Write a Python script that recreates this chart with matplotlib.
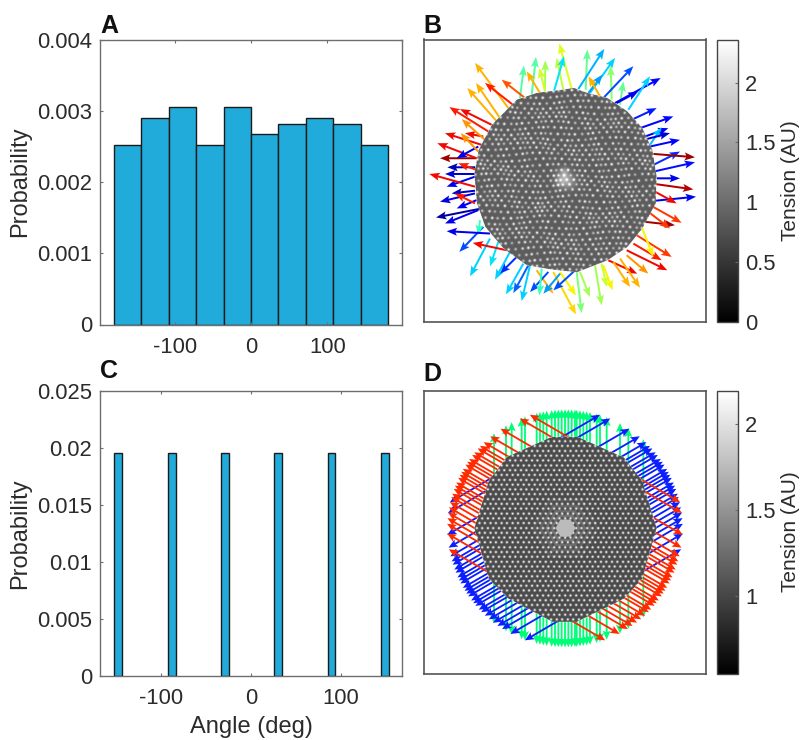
"""Four panel figure: angle histograms (A, C) and tension maps with edge arrows (B, D)."""
import matplotlib
matplotlib.use("Agg")
import matplotlib.pyplot as plt
import numpy as np
from matplotlib.cm import ScalarMappable
from matplotlib.colors import Normalize
from matplotlib.path import Path

plt.rcParams["font.family"] = ["Liberation Sans", "DejaVu Sans"]
plt.rcParams["axes.unicode_minus"] = False

W, H = 802, 740
BAR = "#20abda"
EDGE = "#6e6e6e"
TXT = "#2b2b2b"

# Histogram A
a_edges = [-180, -144, -108, -72, -36, 0, 36, 72, 108, 144]
a_width = 36
a_probs = [0.00252, 0.00290, 0.00305, 0.00252, 0.00305, 0.00267, 0.00282, 0.00290, 0.00282, 0.00252]
a_yticks = [0, 0.001, 0.002, 0.003, 0.004]
a_ylabels = ["0", "0.001", "0.002", "0.003", "0.004"]

# Histogram C
c_edges = [-152, -92, -33, 26, 85.5, 145]
c_width = 8.5
c_probs = [0.0196, 0.0196, 0.0196, 0.0196, 0.0196, 0.0196]
c_yticks = [0, 0.005, 0.01, 0.015, 0.02, 0.025]
c_ylabels = ["0", "0.005", "0.01", "0.015", "0.02", "0.025"]

# Panel B arrows (map units, 3 per pixel); colour is a jet value
b_tip_x = [418, 410, 376, 348, 312, 432, 502, 553, 585, 572, 547, 640, 610, 722, 690, 655, 710, 760, 745, 725,
           780, 750, 780, 825, 825, 780, 820, 828, 770, 785, 765, 750, 755, 725, 742, 652, 685, 660, 630, 700,
           578, 545, 560, 485, 510, 468, 468, 400, 400, 370, 330, 358, 305, 280, 258, 225, 210, 240, 150, 118,
           175, 158, 80, 48, 75, 60, 110, 95, 105, 80, 28, 75, 82, 60, 115, 52, 110, 75, 135, 122,
           88, 120, 125, 142, 165, 168, 195, 245, 320, 358, 505]
b_tip_y = [42, 85, 92, 82, 108, 80, 60, 58, 85, 108, 135, 110, 155, 145, 140, 185, 235, 260, 295, 292,
           330, 310, 365, 382, 397, 445, 478, 500, 520, 578, 585, 595, 680, 690, 720, 730, 730, 772, 770, 680,
           780, 825, 770, 848, 800, 852, 795, 790, 780, 790, 785, 795, 812, 788, 792, 748, 708, 730, 738, 665,
           615, 638, 603, 562, 580, 515, 535, 490, 490, 470, 432, 432, 412, 385, 400, 340, 385, 310, 310, 310,
           232, 238, 268, 175, 100, 160, 160, 150, 125, 115, 140]
b_tail_x = [455, 430, 375, 335, 300, 402, 497, 475, 510, 575, 505, 550, 600, 585, 625, 590, 635, 660, 675, 690,
            690, 670, 700, 700, 700, 710, 705, 705, 705, 690, 675, 685, 650, 640, 620, 565, 620, 600, 580, 665,
            550, 525, 545, 470, 480, 400, 420, 350, 465, 420, 385, 365, 330, 325, 310, 270, 235, 290, 210, 190,
            180, 260, 210, 185, 175, 165, 170, 165, 165, 165, 165, 165, 165, 170, 170, 170, 175, 185, 190, 175,
            205, 215, 195, 235, 265, 240, 285, 315, 360, 375, 540]
b_tail_y = [178, 180, 185, 195, 205, 185, 180, 178, 190, 210, 190, 205, 225, 220, 240, 220, 270, 295, 320, 345,
            350, 330, 405, 372, 425, 445, 462, 512, 485, 525, 575, 545, 615, 640, 660, 690, 675, 685, 695, 590,
            705, 705, 700, 725, 725, 725, 725, 720, 720, 730, 725, 715, 705, 705, 700, 665, 635, 680, 625, 590,
            570, 660, 610, 535, 540, 490, 510, 482, 520, 440, 470, 432, 412, 385, 420, 385, 350, 345, 320, 365,
            305, 285, 330, 280, 235, 265, 230, 205, 190, 185, 200]
b_val = [0.62, 0.58, 0.55, 0.45, 0.45, 0.35, 0.47, 0.30, 0.33, 0.52, 0.28, 0.20, 0.47, 0.12, 0.33, 0.10, 0.15, 0.12, 0.10, 0.32,
         0.13, 0.08, 0.17, 0.97, 0.14, 0.10, 0.95, 0.10, 0.90, 0.85, 0.97, 0.85, 0.85, 0.88, 0.90, 0.90, 0.75, 0.72, 0.72, 0.65,
         0.65, 0.55, 0.60, 0.50, 0.55, 0.68, 0.65, 0.72, 0.20, 0.28, 0.20, 0.42, 0.33, 0.22, 0.33, 0.33, 0.35, 0.17, 0.33, 0.20,
         0.42, 0.90, 0.10, 0.03, 0.10, 0.08, 0.10, 0.06, 0.88, 0.10, 0.90, 0.07, 0.05, 0.97, 0.88, 0.90, 0.10, 0.90, 0.90, 0.75,
         0.88, 0.90, 0.75, 0.72, 0.72, 0.72, 0.88, 0.82, 0.72, 0.60, 0.72]

# Edge of the tissue in B and D (map units)
b_edge_x = [430, 460, 500, 560, 620, 665, 695, 708, 705, 665, 620, 560, 470, 400, 320, 250, 195, 170, 162, 175, 215, 290, 350]
b_edge_y = [180, 175, 190, 205, 245, 295, 360, 440, 520, 595, 650, 690, 725, 718, 705, 655, 590, 520, 430, 360, 285, 210, 190]
d_edge_x = [395, 470, 610, 665, 708, 665, 610, 470, 395, 265, 205, 162, 205, 260]
d_edge_y = [168, 168, 230, 300, 440, 590, 650, 718, 718, 650, 590, 440, 300, 228]

# Panel D arrows: sideways offset of each arrow from the centre line of its direction
d_center = (435, 440)
d_tip_r = 354
green_off = [-213, -177, -160, -130, -120, -85, -75, -65, -55, -40, -30, -20, -10, 0, 10, 20, 30, 35,
             45, 55, 65, 75, 95, 105, 125, 165, 190, 235]
blue_off = [228, 190, 165, 150, 135, 120, 105, 90, 80, 65, 55, 45, 30, 20, 10, 0, -15, -25, -35, -50,
            -60, -75, -85, -100, -125, -160, -215, -240]
red_off = [-v for v in blue_off]


def add_axes(left, top, right, bottom):
    return fig.add_axes([left / W, 1 - bottom / H, (right - left) / W, (bottom - top) / H])


def hist_panel(ax, edges, width, probs, xlim, ylim, yticks, ylabels):
    ax.bar(edges, probs, width=width, align="edge", color=BAR, edgecolor="#1a1a1a", linewidth=1)
    ax.set_xlim(*xlim)
    ax.set_ylim(*ylim)
    ax.set_xticks([-100, 0, 100])
    ax.set_xticklabels(["-100", "0", "100"])
    ax.set_yticks(yticks)
    ax.set_yticklabels(ylabels)
    ax.tick_params(direction="in", length=2.5, width=0.8, color=EDGE, top=True, right=True,
                   labelsize=15.8, labelcolor=TXT)
    ax.tick_params(axis="x", pad=9)
    ax.tick_params(axis="y", pad=5.5)
    ax.set_ylabel("Probability", fontsize=17, color=TXT)
    ax.yaxis.set_label_coords(-0.228, 0.5)
    for s in ax.spines.values():
        s.set_color(EDGE)
        s.set_linewidth(1)


def blur(points, weights, size, sigma):
    # soft dots on a map of size x size
    img = np.zeros((size, size))
    ix = np.clip(points[:, 0].astype(int), 0, size - 1)
    iy = np.clip(points[:, 1].astype(int), 0, size - 1)
    np.add.at(img, (iy, ix), weights)
    d = np.minimum(np.arange(size), size - np.arange(size))
    kern = np.exp(-(d[:, None] ** 2 + d[None, :] ** 2) / (2 * sigma ** 2))
    return np.fft.irfft2(np.fft.rfft2(img) * np.fft.rfft2(kern), s=img.shape)


def map_panel(ax, img, edge_x, edge_y, vmin, vmax):
    yy, xx = np.mgrid[0:img.shape[0], 0:img.shape[1]]
    inside = Path(np.column_stack([edge_x, edge_y])).contains_points(np.column_stack([xx.ravel(), yy.ravel()]))
    cmap = plt.get_cmap("gray").copy()
    cmap.set_bad((1, 1, 1, 0))
    shown = np.ma.array(img, mask=~inside.reshape(img.shape))
    ax.imshow(shown, cmap=cmap, vmin=vmin, vmax=vmax, zorder=5, interpolation="antialiased")
    ax.set_xlim(12, 858)
    ax.set_ylim(873, 30)
    ax.set_aspect("auto")
    ax.set_xticks([])
    ax.set_yticks([])
    for s in ax.spines.values():
        s.set_color("#555555")
        s.set_linewidth(1.2)


def colorbar(cax, vmin, vmax, ticks, labels, label_y):
    cb = fig.colorbar(ScalarMappable(Normalize(vmin, vmax), "gray"), cax=cax)
    cb.set_ticks(ticks)
    cb.set_ticklabels(labels)
    cb.ax.tick_params(direction="in", length=2.5, width=0.8, color=EDGE, labelsize=15.8, labelcolor=TXT, pad=5)
    cb.outline.set_edgecolor("#444444")
    cb.outline.set_linewidth(1)
    fig.text(791 / W, 1 - label_y / H, "Tension (AU)", rotation=90, ha="center", va="center",
             fontsize=15, color=TXT)


def hex_dist(x, y):
    return np.maximum(np.abs(y), np.abs(x) * 0.866 + np.abs(y) * 0.5)


fig = plt.figure(figsize=(W / 100, H / 100), dpi=100)

ax_a = add_axes(100, 39.5, 402, 324.5)
hist_panel(ax_a, a_edges, a_width, a_probs, (-198, 198), (0, 0.004), a_yticks, a_ylabels)

ax_c = add_axes(100, 391, 402, 676)
hist_panel(ax_c, c_edges, c_width, c_probs, (-168, 168), (0, 0.025), c_yticks, c_ylabels)
ax_c.set_xlabel("Angle (deg)", fontsize=17, color=TXT, labelpad=5)

# Panel B: arrows under a disordered cell texture
ax_b = add_axes(424, 39.5, 706, 321.5)
tail_x, tail_y = np.array(b_tail_x), np.array(b_tail_y)
ax_b.quiver(tail_x, tail_y, np.array(b_tip_x) - tail_x, np.array(b_tip_y) - tail_y, np.array(b_val),
            cmap="jet", clim=(0, 1), angles="xy", scale_units="xy", scale=1, units="xy",
            width=6, headwidth=4, headlength=5.2, headaxislength=4.4, zorder=2)
size = 880
gx, gy = np.meshgrid(np.arange(0, size, 18.0), np.arange(0, size, 15.6))
gx[1::2] += 9
# small wavy shift of a hexagonal grid, only to break up the regular look of the cell texture
wx = gx + 3 * np.sin(0.031 * gy + 2.1 * np.sin(0.017 * gx)) + 2.5 * np.sin(0.83 * gy + 0.61 * gx)
wy = gy + 3 * np.sin(0.027 * gx + 1.9 * np.sin(0.023 * gy)) + 2.5 * np.sin(0.71 * gx - 0.47 * gy)
pts = np.column_stack([wx.ravel(), wy.ravel()])
idx = np.arange(len(pts))
wts = 0.55 + 0.45 * ((idx * 37) % 11) / 10
img_b = 0.85 + 1.75 * blur(pts, wts, size, 2.6)
yy, xx = np.mgrid[0:size, 0:size]
# brighter knot at the centre of the tissue
for cx, cy, sx, amp in [(430, 440, 15, 0.5), (445, 458, 15, 0.45), (420, 455, 11, 0.35), (432, 425, 9, 0.35)]:
    img_b += amp * np.exp(-((xx - cx) ** 2 + (yy - cy) ** 2) / (2 * sx ** 2))
map_panel(ax_b, img_b, b_edge_x, b_edge_y, 0, 2.36)

# Panel D: six arrow directions under a hexagonal cell texture
ax_d = add_axes(424, 390.5, 706, 674)
for color, offs, angles in [("#00ff78", green_off, (90, 270)), ("#0a1eff", blue_off, (30, 210)),
                            ("#ff2a00", red_off, (150, 330))]:
    for ang in angles:
        a = np.radians(ang)
        off = np.array(offs, dtype=float)
        along = np.sqrt(d_tip_r ** 2 - off ** 2)
        # sideways direction turns with the arrow, so the two senses stay point symmetric
        ux, uy = np.cos(a), -np.sin(a)
        nx, ny = -uy, ux
        if ang >= 180:
            nx, ny = -nx, -ny
        tx = d_center[0] + along * ux + off * nx
        ty = d_center[1] + along * uy + off * ny
        ln = 0.62 * along
        ax_d.quiver(tx - ln * ux, ty - ln * uy, ln * ux, ln * uy, color=color, angles="xy",
                    scale_units="xy", scale=1, units="xy", width=5.5, headwidth=4.4, headlength=5,
                    headaxislength=4.2, zorder=2)
gx, gy = np.meshgrid(np.arange(0, size, 16.5), np.arange(0, size, 14.3))
gx[1::2] += 8.25
pts = np.column_stack([(gx + 5).ravel(), (gy + 11).ravel()])
img_d = 1.02 + 1.35 * blur(pts, np.ones(len(pts)), size, 2.3)
h = hex_dist(xx - 435, yy - 440)
for ring, amp in [(36, 0.3), (50, 0.25), (65, 0.18), (82, 0.1)]:
    img_d += amp * np.exp(-(h - ring) ** 2 / (2 * 2.5 ** 2))
img_d = np.where(h < 26, 1.75, img_d)
map_panel(ax_d, img_d, d_edge_x, d_edge_y, 0.547, 2.19)

colorbar(add_axes(717, 39.5, 738, 322), 0, 2.36, [0, 0.5, 1, 1.5, 2], ["0", "0.5", "1", "1.5", "2"], 181)
colorbar(add_axes(717, 391, 738, 674), 0.547, 2.19, [1, 1.5, 2], ["1", "1.5", "2"], 532)

for letter, x, y in [("A", 100, 33), ("B", 423, 33), ("C", 100, 378), ("D", 423, 381)]:
    fig.text(x / W, 1 - y / H, letter, fontsize=18, fontweight="bold", color="#111111", va="baseline")

fig.savefig("out.png", dpi=100)
